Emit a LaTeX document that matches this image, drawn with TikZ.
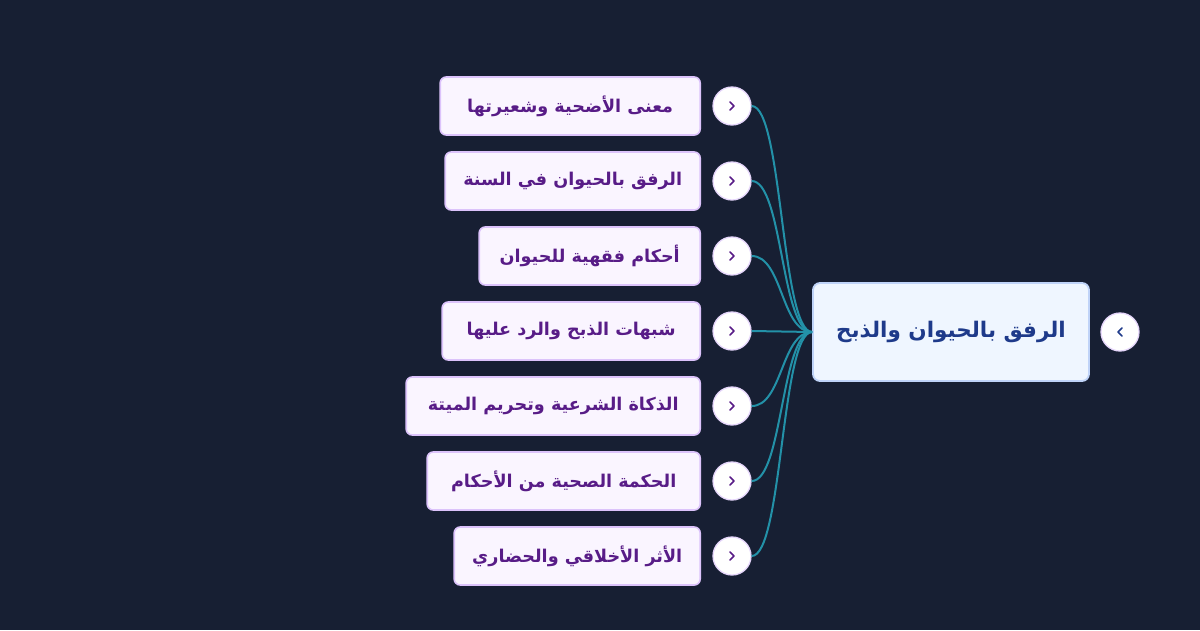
\documentclass[tikz,border=0pt]{standalone}
\usepackage{fontspec}
\newfontfamily\arabicfont[Script=Arabic]{DejaVu Sans}
\TeXXeTstate=1
\definecolor{bgc}{HTML}{171F33}
\definecolor{rootfill}{HTML}{EFF6FF}
\definecolor{rootborder}{HTML}{BFD3F8}
\definecolor{roottext}{HTML}{1E3A8A}
\definecolor{childfill}{HTML}{FAF5FF}
\definecolor{childborder}{HTML}{DCC3FB}
\definecolor{childtext}{HTML}{581C87}
\definecolor{circborder}{HTML}{E6D6FB}
\definecolor{conncol}{HTML}{2391A8}
\begin{document}
\begin{tikzpicture}[x=1pt,y=-1pt,
  childbox/.style={draw=childborder, line width=1.6pt, fill=childfill, rounded corners=6pt,
    minimum height=58pt, inner sep=0pt, anchor=east, text=childtext,
    font=\arabicfont\bfseries\fontsize{17.6}{21}\selectfont},
  rootbox/.style={draw=rootborder, line width=1.8pt, fill=rootfill, rounded corners=7pt,
    minimum height=98pt, minimum width=276pt, inner sep=0pt, text=roottext,
    font=\arabicfont\bfseries\fontsize{21.5}{26}\selectfont},
  toggle/.style={circle, draw=circborder, line width=1.3pt, fill=white, minimum size=38pt, inner sep=0pt},
  conn/.style={draw=conncol, line width=2pt},
  chevc/.style={draw=childtext, line width=1.5pt, line cap=round, line join=round},
  chevr/.style={draw=roottext, line width=1.5pt, line cap=round, line join=round}]
\fill[bgc] (0,0) rectangle (1200,630);
\useasboundingbox (0,0) rectangle (1200,630);

\node[rootbox] (root) at (951,332) {\beginR الرفق بالحيوان والذبح\endR};
\node[toggle] (rt) at (1120,332) {};
\draw[chevr] (rt.center) ++(2,-4) -- ++(-4,4) -- ++(4,4);

\foreach \i/\w/\t in {1/260/{معنى الأضحية وشعيرتها},
                      2/255/{الرفق بالحيوان في السنة},
                      3/221/{أحكام فقهية للحيوان},
                      4/258/{شبهات الذبح والرد عليها},
                      5/294/{الذكاة الشرعية وتحريم الميتة},
                      6/273/{الحكمة الصحية من الأحكام},
                      7/246/{الأثر الأخلاقي والحضاري}}{
  \pgfmathsetmacro{\yy}{31+75*\i}
  \node[childbox, minimum width=\w pt] (b\i) at (701,\yy) {\beginR \t\endR};
  \node[toggle] (t\i) at (732,\yy) {};
  \draw[chevc] (t\i.center) ++(-2,-4) -- ++(4,4) -- ++(-4,4);
  \draw[conn] (t\i.east) .. controls +(31,0) and +(-31,0) .. (root.west);
}
\end{tikzpicture}
\end{document}
